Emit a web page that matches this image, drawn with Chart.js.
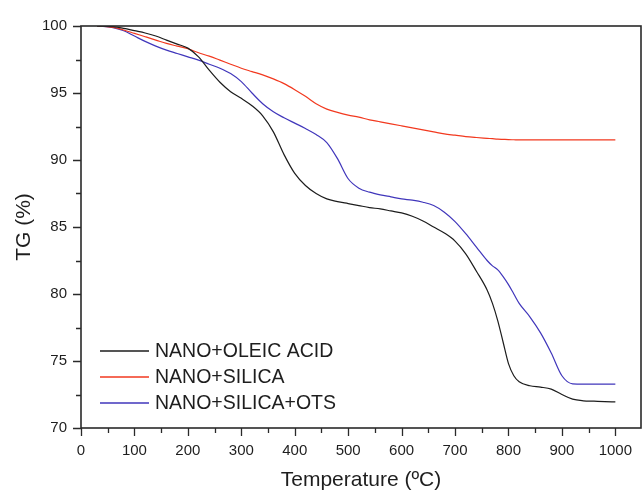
<!DOCTYPE html>
<html>
<head>
<meta charset="utf-8">
<script src="https://cdn.jsdelivr.net/npm/chart.js@4/dist/chart.umd.min.js"></script>
<style>
    html, body { margin: 0; padding: 0; background: #fff; }
    #wrap { width: 642px; height: 493px; }
</style>
</head>
<body>
<div id="wrap"><canvas id="tg-chart" width="642" height="493"></canvas></div>
<script>
// ---------------------------------------------------------------------------
// Data
// ---------------------------------------------------------------------------
const temps = [30, 40, 60, 80, 100, 120, 140, 160, 180, 200, 220, 240, 260, 280, 300,
    320, 340, 360, 380, 400, 420, 440, 460, 480, 500, 520, 540, 560, 580, 600,
    620, 640, 660, 680, 700, 720, 740, 760, 770, 780, 790, 800, 810, 820, 840,
    860, 880, 900, 920, 940, 960, 980, 1000];

const oleic = [100, 99.98, 99.95, 99.82, 99.65, 99.48, 99.25, 98.95, 98.65, 98.35,
    97.7, 96.7, 95.8, 95.1, 94.6, 94.05, 93.3, 92.1, 90.4, 89.0,
    88.1, 87.5, 87.1, 86.9, 86.75, 86.6, 86.45, 86.35, 86.2, 86.05,
    85.8, 85.45, 85.0, 84.55, 83.95, 83.0, 81.7, 80.3, 79.3, 78.0,
    76.4, 74.8, 73.9, 73.45, 73.15, 73.05, 72.9, 72.5, 72.15, 72.03,
    72.0, 71.97, 71.95];

const silica = [100, 99.98, 99.9, 99.7, 99.45, 99.2, 98.95, 98.7, 98.5, 98.3,
    98.0, 97.75, 97.45, 97.15, 96.85, 96.6, 96.35, 96.05, 95.7, 95.25,
    94.75, 94.2, 93.8, 93.55, 93.35, 93.2, 93.0, 92.85, 92.7, 92.55,
    92.4, 92.25, 92.1, 91.95, 91.85, 91.75, 91.68, 91.62, 91.59, 91.56,
    91.54, 91.52, 91.51, 91.5, 91.5, 91.5, 91.5, 91.5, 91.5, 91.5,
    91.5, 91.5, 91.5];

const silicaOts = [100, 99.98, 99.88, 99.65, 99.25, 98.85, 98.5, 98.2, 97.95, 97.7,
    97.45, 97.15, 96.85, 96.45, 95.85, 95.0, 94.2, 93.6, 93.15, 92.75,
    92.35, 91.9, 91.3, 90.1, 88.6, 87.9, 87.6, 87.4, 87.25, 87.1,
    87.0, 86.85, 86.6, 86.1, 85.4, 84.5, 83.5, 82.5, 82.1, 81.8,
    81.3, 80.7, 80.0, 79.3, 78.3, 77.1, 75.6, 73.9, 73.3, 73.28,
    73.28, 73.28, 73.28];

const seriesLabels = ['NANO+OLEIC ACID', 'NANO+SILICA', 'NANO+SILICA+OTS'];
const xTicks = [0, 50, 100, 150, 200, 250, 300, 350, 400, 450, 500, 550, 600, 650,
    700, 750, 800, 850, 900, 950, 1000];
const yTicks = [70, 72.5, 75, 77.5, 80, 82.5, 85, 87.5, 90, 92.5, 95, 97.5, 100];

// ---------------------------------------------------------------------------
// Helpers
// ---------------------------------------------------------------------------
const FONT = "'Liberation Sans', Arial, sans-serif";
const AXIS_COLOR = '#2a2a2a';

function toPoints(values) {
    return values.map((v, i) => ({ x: temps[i], y: v }));
}

function lineDataset(label, values, color) {
    return {
        label,
        data: toPoints(values),
        borderColor: color,
        backgroundColor: color,
        borderWidth: 1.2,
        pointRadius: 0,
        fill: false,
        cubicInterpolationMode: 'monotone',
    };
}

// fixed box sizes, no label overflow padding
function fixBox(s) {
    if (s.isHorizontal()) s.height = 65; else s.width = 81;
    s.paddingLeft = 0;
    s.paddingRight = 0;
    s.paddingTop = 0;
    s.paddingBottom = 0;
}

// frame + outward tick marks (major long, minor short)
const framePlugin = {
    id: 'frame',
    afterDraw(chart) {
        const { ctx, chartArea: a, scales } = chart;
        ctx.save();
        ctx.strokeStyle = AXIS_COLOR;
        ctx.lineWidth = 1.6;
        ctx.strokeRect(a.left, a.top, a.right - a.left, a.bottom - a.top);
        ctx.lineWidth = 1.3;
        ctx.beginPath();
        xTicks.forEach(v => {
            const px = Math.round(scales.x.getPixelForValue(v)) + 0.5;
            const len = v % 100 === 0 ? 8 : 5;
            ctx.moveTo(px, a.bottom);
            ctx.lineTo(px, a.bottom + len);
        });
        yTicks.forEach(v => {
            const py = Math.round(scales.y.getPixelForValue(v)) + 0.5;
            const len = v % 5 === 0 ? 8 : 5;
            ctx.moveTo(a.left, py);
            ctx.lineTo(a.left - len, py);
        });
        ctx.stroke();
        ctx.restore();
    }
};

// legend inside the plot, bottom-left
const insideLegend = {
    id: 'insideLegend',
    afterDatasetsDraw(chart) {
        const { ctx, chartArea: a } = chart;
        ctx.save();
        ctx.font = '19.5px ' + FONT;
        ctx.textBaseline = 'middle';
        chart.data.datasets.forEach((ds, i) => {
            const y = Math.round(a.bottom - 77 + i * 26);
            ctx.strokeStyle = ds.borderColor;
            ctx.lineWidth = 1.5;
            ctx.beginPath();
            ctx.moveTo(a.left + 19, y);
            ctx.lineTo(a.left + 68, y);
            ctx.stroke();
            ctx.fillStyle = '#1e1e1e';
            ctx.fillText(ds.label, a.left + 74, y + 1);
        });
        ctx.restore();
    }
};

// ---------------------------------------------------------------------------
// Chart
// ---------------------------------------------------------------------------
const tgChart = new Chart(document.getElementById('tg-chart'), {
    type: 'line',
    data: {
        datasets: [
            lineDataset(seriesLabels[0], oleic, '#1c1c1c'),
            lineDataset(seriesLabels[1], silica, '#f2391f'),
            lineDataset(seriesLabels[2], silicaOts, '#4036bb'),
        ]
    },
    options: {
        responsive: false,
        devicePixelRatio: 1,
        animation: false,
        layout: { padding: { top: 26, right: 1, left: 0, bottom: 0 } },
        plugins: { legend: { display: false }, tooltip: { enabled: false } },
        scales: {
            x: {
                type: 'linear',
                min: 0,
                max: 1048,
                afterFit: fixBox,
                afterBuildTicks: (s) => { s.ticks = xTicks.map(v => ({ value: v })); },
                grid: { display: false, drawTicks: false },
                border: { display: false },
                ticks: {
                    autoSkip: false,
                    maxRotation: 0,
                    padding: 14,
                    color: '#1e1e1e',
                    font: { family: FONT, size: 15 },
                    callback: (v) => (v % 100 === 0 ? String(v) : ''),
                },
                title: {
                    display: true,
                    text: 'Temperature (ºC)',
                    color: '#1e1e1e',
                    font: { family: FONT, size: 21 },
                    padding: { top: 0, bottom: 0 },
                },
            },
            y: {
                type: 'linear',
                min: 70,
                max: 100,
                afterFit: fixBox,
                afterBuildTicks: (s) => { s.ticks = yTicks.map(v => ({ value: v })); },
                grid: { display: false, drawTicks: false },
                border: { display: false },
                ticks: {
                    autoSkip: false,
                    padding: 14,
                    color: '#1e1e1e',
                    font: { family: FONT, size: 15 },
                    callback: (v) => (v % 5 === 0 ? String(v) : ''),
                },
                title: {
                    display: true,
                    text: 'TG (%)',
                    color: '#1e1e1e',
                    font: { family: FONT, size: 21 },
                    padding: { top: 12, bottom: 0 },
                },
            },
        },
    },
    plugins: [framePlugin, insideLegend],
});
</script>
</body>
</html>
